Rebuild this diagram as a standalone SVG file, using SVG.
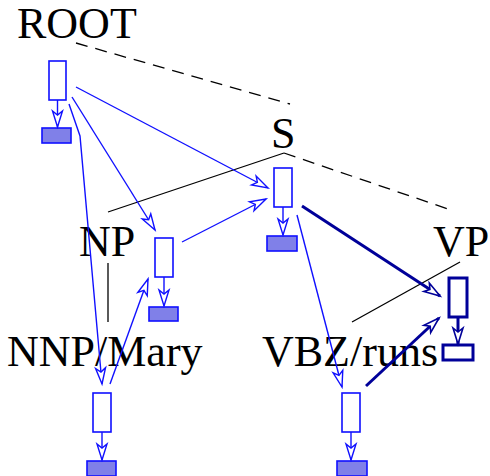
<svg xmlns="http://www.w3.org/2000/svg" width="490" height="476" viewBox="0 0 490 476">
  <defs>
    <style>
      text { font-family: 'Liberation Serif', 'Times New Roman', Times, serif; font-size: 44px; fill: #000; }
      .tree { stroke: #000; stroke-width: 1.3; fill: none; }
      .dash { stroke: #000; stroke-width: 1.3; fill: none; stroke-dasharray: 12 8; }
      .box { fill: #fff; stroke: #1010ff; stroke-width: 1.6; }
      .head { fill: #8080e8; stroke: #1010ff; stroke-width: 1.6; }
      .box2 { fill: #fff; stroke: #000099; stroke-width: 3; }
      .head2 { fill: #fff; stroke: #000099; stroke-width: 3; }
      .dep { stroke: #1010ff; stroke-width: 1.4; fill: none; marker-end: url(#arr); }
      .dep2 { stroke: #000099; stroke-width: 3; fill: none; marker-end: url(#arr2); }
    </style>
    <marker id="arr" markerUnits="userSpaceOnUse" markerWidth="20" markerHeight="14" refX="18" refY="7" orient="auto" overflow="visible">
      <path d="M18,7 L2,2 L6,7 L2,12 Z" fill="#fff" stroke="#1010ff" stroke-width="1.4"/>
    </marker>
    <marker id="arr2" markerUnits="userSpaceOnUse" markerWidth="20" markerHeight="14" refX="18" refY="7" orient="auto" overflow="visible">
      <path d="M18,7 L2,2 L6,7 L2,12 Z" fill="#fff" stroke="#000099" stroke-width="1.6"/>
    </marker>
  </defs>

  <!-- phrase-structure tree -->
  <g id="tree-lines">
    <line class="dash" x1="76" y1="43" x2="290" y2="104"/>
    <line class="tree" x1="284" y1="153" x2="108" y2="212"/>
    <line class="dash" x1="284" y1="153" x2="451" y2="210"/>
    <line class="tree" x1="108" y1="263" x2="108" y2="322"/>
    <line class="tree" x1="460" y1="262" x2="352" y2="322"/>
  </g>

  <g id="ROOT"><text x="17" y="38" font-family="Liberation Serif, serif">ROOT</text></g>
  <g id="S"><text x="271" y="148" font-family="Liberation Serif, serif">S</text></g>
  <g id="NP"><text x="79" y="256" font-family="Liberation Serif, serif">NP</text></g>
  <g id="VP"><text x="433" y="256" font-family="Liberation Serif, serif">VP</text></g>
  <g id="NNP-Mary"><text x="7" y="366" font-family="Liberation Serif, serif">NNP/Mary</text></g>
  <g id="VBZ-runs"><text x="262" y="366" font-family="Liberation Serif, serif">VBZ/runs</text></g>

  <!-- feature boxes -->
  <g id="box-root">
    <rect class="box" x="49" y="61" width="17" height="39"/>
    <rect class="head" x="42" y="128" width="29" height="15"/>
  </g>
  <g id="box-np">
    <rect class="box" x="155" y="238" width="18" height="39"/>
    <rect class="head" x="149" y="307" width="29" height="14"/>
  </g>
  <g id="box-s">
    <rect class="box" x="274" y="168" width="18" height="39"/>
    <rect class="head" x="267" y="236" width="30" height="15"/>
  </g>
  <g id="box-vp">
    <rect class="box2" x="449" y="278" width="18" height="39"/>
    <rect class="head2" x="443" y="345" width="30" height="15"/>
  </g>
  <g id="box-mary">
    <rect class="box" x="93" y="393" width="18" height="39"/>
    <rect class="head" x="87" y="461" width="29" height="15"/>
  </g>
  <g id="box-runs">
    <rect class="box" x="342" y="393" width="18" height="39"/>
    <rect class="head" x="337" y="461" width="30" height="15"/>
  </g>

  <!-- dependency arrows -->
  <g id="connectors">
    <line class="dep" x1="57.5" y1="100" x2="57.5" y2="127"/>
    <line class="dep" x1="164" y1="277" x2="164" y2="306"/>
    <line class="dep" x1="283" y1="207" x2="283" y2="235"/>
    <line class="dep" x1="102" y1="432" x2="102" y2="460"/>
    <line class="dep" x1="351" y1="432" x2="351" y2="460"/>
    <line class="dep2" x1="458" y1="318" x2="458" y2="344"/>
    <line class="dep" x1="72" y1="97" x2="155" y2="230"/>
    <line class="dep" x1="76" y1="87" x2="268" y2="188"/>
    <polyline class="dep" points="69,104 80,136 102,384"/>
    <line class="dep" x1="110" y1="384" x2="148" y2="279"/>
    <line class="dep" x1="182" y1="242" x2="266" y2="199"/>
    <line class="dep" x1="297" y1="215" x2="342" y2="387"/>
    <line class="dep2" x1="302" y1="206" x2="440" y2="296"/>
    <line class="dep2" x1="366" y1="386" x2="439" y2="318"/>
  </g>
</svg>
